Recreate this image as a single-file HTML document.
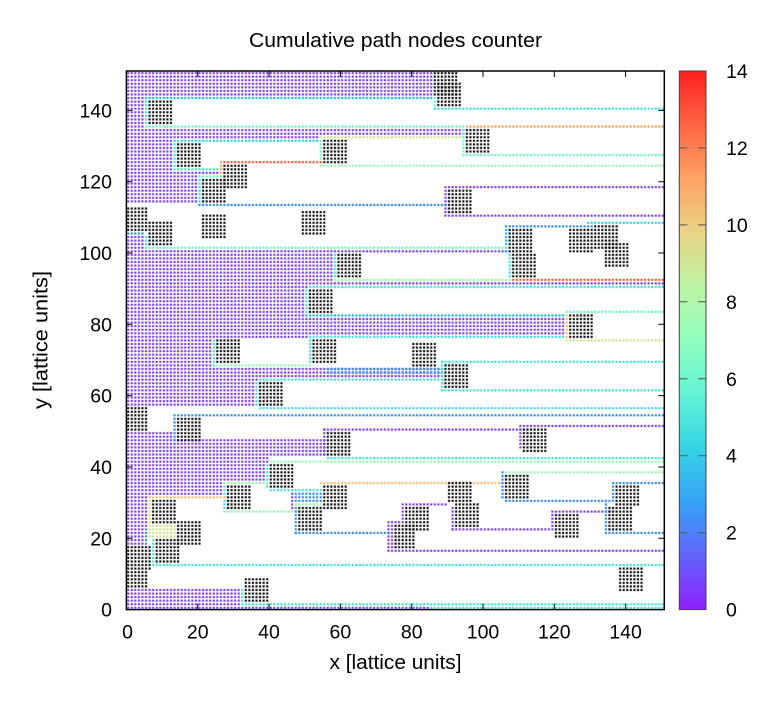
<!DOCTYPE html>
<html><head><meta charset="utf-8"><style>
html,body{margin:0;padding:0;background:#fff;}
svg{display:block;}
text{font-family:"Liberation Sans",Arial,sans-serif;fill:#000;}
</style></head><body>
<svg xmlns="http://www.w3.org/2000/svg" width="779" height="706" viewBox="0 0 779 706">
<defs>
<pattern id="pu" width="1" height="1" patternUnits="userSpaceOnUse"><rect x="0.2" y="0.2" width="0.6" height="0.6" fill="#7b3dff"/></pattern>
<pattern id="b2" width="1" height="1" patternUnits="userSpaceOnUse"><rect x="0.2" y="0.2" width="0.6" height="0.6" fill="#2f88f5"/></pattern>
<pattern id="c35" width="1" height="1" patternUnits="userSpaceOnUse"><rect x="0.2" y="0.2" width="0.6" height="0.6" fill="#14b8ee"/></pattern>
<pattern id="c45" width="1" height="1" patternUnits="userSpaceOnUse"><rect x="0.2" y="0.2" width="0.6" height="0.6" fill="#24d8e0"/></pattern>
<pattern id="c5" width="1" height="1" patternUnits="userSpaceOnUse"><rect x="0.2" y="0.2" width="0.6" height="0.6" fill="#37e6d8"/></pattern>
<pattern id="g6" width="1" height="1" patternUnits="userSpaceOnUse"><rect x="0.2" y="0.2" width="0.6" height="0.6" fill="#64fbc2"/></pattern>
<pattern id="lg" width="1" height="1" patternUnits="userSpaceOnUse"><rect x="0.2" y="0.2" width="0.6" height="0.6" fill="#92fda9"/></pattern>
<pattern id="yg" width="1" height="1" patternUnits="userSpaceOnUse"><rect x="0.2" y="0.2" width="0.6" height="0.6" fill="#c8e688"/></pattern>
<pattern id="oy" width="1" height="1" patternUnits="userSpaceOnUse"><rect x="0.2" y="0.2" width="0.6" height="0.6" fill="#f6be6a"/></pattern>
<pattern id="or" width="1" height="1" patternUnits="userSpaceOnUse"><rect x="0.2" y="0.2" width="0.6" height="0.6" fill="#ff9f54"/></pattern>
<pattern id="rd" width="1" height="1" patternUnits="userSpaceOnUse"><rect x="0.2" y="0.2" width="0.6" height="0.6" fill="#ff552b"/></pattern>
<pattern id="bk" width="1" height="1" patternUnits="userSpaceOnUse"><rect x="0.2" y="0.2" width="0.6" height="0.6" fill="#111"/></pattern>
<linearGradient id="cb" x1="0" y1="1" x2="0" y2="0">
<stop offset="0" stop-color="rgb(143,31,255)"/>
<stop offset="0.1" stop-color="rgb(98,100,252)"/>
<stop offset="0.2" stop-color="rgb(53,163,244)"/>
<stop offset="0.3" stop-color="rgb(53,212,230)"/>
<stop offset="0.4" stop-color="rgb(98,244,212)"/>
<stop offset="0.5" stop-color="rgb(143,255,189)"/>
<stop offset="0.6" stop-color="rgb(188,244,163)"/>
<stop offset="0.7" stop-color="rgb(233,212,133)"/>
<stop offset="0.8" stop-color="rgb(255,163,100)"/>
<stop offset="0.9" stop-color="rgb(255,100,66)"/>
<stop offset="1" stop-color="rgb(255,31,31)"/>
</linearGradient>
</defs>

<g transform="translate(126.4,609.6) scale(3.565,-3.565)">
<rect x="0" y="144" width="86" height="7" fill="url(#pu)"/>
<rect x="0" y="135" width="5" height="9" fill="url(#pu)"/>
<rect x="0" y="133" width="95" height="2" fill="url(#pu)"/>
<rect x="0" y="132" width="54" height="1" fill="url(#pu)"/>
<rect x="0" y="123" width="13" height="9" fill="url(#pu)"/>
<rect x="0" y="114" width="20" height="9" fill="url(#pu)"/>
<rect x="20" y="122" width="6" height="1" fill="url(#pu)"/>
<rect x="0" y="101" width="5" height="4" fill="url(#pu)"/>
<rect x="89" y="118" width="62" height="1" fill="url(#pu)"/>
<rect x="89" y="110" width="62" height="1" fill="url(#pu)"/>
<rect x="89" y="111" width="1" height="7" fill="url(#pu)"/>
<rect x="0" y="92" width="58" height="9" fill="url(#pu)"/>
<rect x="58" y="100" width="49" height="1" fill="url(#pu)"/>
<rect x="0" y="91" width="151" height="1" fill="url(#pu)"/>
<rect x="0" y="90" width="51" height="1" fill="url(#pu)"/>
<rect x="0" y="82" width="50" height="8" fill="url(#pu)"/>
<rect x="0" y="77" width="123" height="5" fill="url(#pu)"/>
<rect x="0" y="76" width="51" height="1" fill="url(#pu)"/>
<rect x="0" y="65" width="24" height="11" fill="url(#pu)"/>
<rect x="24" y="65" width="65" height="3" fill="url(#pu)"/>
<rect x="56" y="66" width="33" height="2" fill="url(#b2)"/>
<rect x="0" y="57" width="36" height="8" fill="url(#pu)"/>
<rect x="36" y="64" width="1" height="1" fill="url(#pu)"/>
<rect x="0" y="48" width="13" height="2" fill="url(#pu)"/>
<rect x="0" y="43" width="56" height="5" fill="url(#pu)"/>
<rect x="55" y="43" width="1" height="8" fill="url(#pu)"/>
<rect x="55" y="50" width="56" height="1" fill="url(#pu)"/>
<rect x="110" y="45" width="1" height="7" fill="url(#pu)"/>
<rect x="111" y="51" width="40" height="1" fill="url(#pu)"/>
<rect x="0" y="36" width="39" height="7" fill="url(#pu)"/>
<rect x="39" y="41" width="1" height="2" fill="url(#pu)"/>
<rect x="0" y="32" width="27" height="4" fill="url(#pu)"/>
<rect x="0" y="23" width="6" height="9" fill="url(#pu)"/>
<rect x="0" y="18" width="5" height="5" fill="url(#pu)"/>
<rect x="46" y="28" width="1" height="5" fill="url(#pu)"/>
<rect x="73" y="17" width="2" height="8" fill="url(#pu)"/>
<rect x="75" y="24" width="3" height="1" fill="url(#pu)"/>
<rect x="77" y="25" width="1" height="5" fill="url(#pu)"/>
<rect x="78" y="29" width="12" height="1" fill="url(#pu)"/>
<rect x="91" y="22" width="1" height="7" fill="url(#pu)"/>
<rect x="91" y="22" width="28" height="1" fill="url(#pu)"/>
<rect x="119" y="22" width="1" height="6" fill="url(#pu)"/>
<rect x="120" y="27" width="16" height="1" fill="url(#pu)"/>
<rect x="73" y="16" width="78" height="1" fill="url(#pu)"/>
<rect x="0" y="0" width="32" height="6" fill="url(#pu)"/>
<rect x="32" y="0" width="53" height="1" fill="url(#pu)"/>

<rect x="5" y="143" width="81" height="1" fill="url(#c35)"/>
<rect x="86" y="140" width="1" height="4" fill="url(#g6)"/>
<rect x="86" y="140" width="65" height="1" fill="url(#c5)"/>
<rect x="5" y="136" width="1" height="7" fill="url(#c5)"/>
<rect x="5" y="135" width="90" height="1" fill="url(#g6)"/>
<rect x="95" y="135" width="56" height="1" fill="url(#or)"/>
<rect x="54" y="132" width="41" height="1" fill="url(#yg)"/>
<rect x="13" y="131" width="41" height="1" fill="url(#c45)"/>
<rect x="13" y="124" width="1" height="7" fill="url(#c5)"/>
<rect x="54" y="125" width="1" height="7" fill="url(#g6)"/>
<rect x="94" y="128" width="1" height="7" fill="url(#g6)"/>
<rect x="94" y="127" width="57" height="1" fill="url(#g6)"/>
<rect x="54" y="124" width="97" height="1" fill="url(#lg)"/>
<rect x="27" y="125" width="28" height="1" fill="url(#rd)"/>
<rect x="26" y="121" width="1" height="5" fill="url(#or)"/>
<rect x="13" y="123" width="13" height="1" fill="url(#c5)"/>
<rect x="20" y="121" width="7" height="1" fill="url(#g6)"/>
<rect x="20" y="114" width="1" height="7" fill="url(#c5)"/>
<rect x="20" y="113" width="70" height="1" fill="url(#b2)"/>
<rect x="0" y="105" width="5" height="1" fill="url(#b2)"/>
<rect x="5" y="101" width="1" height="4" fill="url(#c5)"/>
<rect x="129" y="108" width="22" height="1" fill="url(#c45)"/>
<rect x="106" y="107" width="25" height="1" fill="url(#b2)"/>
<rect x="106" y="100" width="1" height="7" fill="url(#c35)"/>
<rect x="5" y="101" width="102" height="1" fill="url(#g6)"/>
<rect x="58" y="93" width="1" height="7" fill="url(#c5)"/>
<rect x="107" y="93" width="1" height="7" fill="url(#c5)"/>
<rect x="58" y="92" width="50" height="1" fill="url(#lg)"/>
<rect x="108" y="92" width="43" height="1" fill="url(#rd)"/>
<rect x="51" y="90" width="100" height="1" fill="url(#c5)"/>
<rect x="50" y="83" width="1" height="7" fill="url(#c5)"/>
<rect x="50" y="82" width="73" height="1" fill="url(#c35)"/>
<rect x="123" y="83" width="28" height="1" fill="url(#g6)"/>
<rect x="123" y="76" width="1" height="7" fill="url(#oy)"/>
<rect x="51" y="76" width="72" height="1" fill="url(#c5)"/>
<rect x="123" y="75" width="28" height="1" fill="url(#yg)"/>
<rect x="24" y="68" width="1" height="8" fill="url(#c5)"/>
<rect x="51" y="69" width="1" height="7" fill="url(#c5)"/>
<rect x="25" y="68" width="27" height="1" fill="url(#lg)"/>
<rect x="88" y="62" width="1" height="8" fill="url(#c5)"/>
<rect x="88" y="69" width="63" height="1" fill="url(#c5)"/>
<rect x="88" y="61" width="63" height="1" fill="url(#c5)"/>
<rect x="37" y="64" width="52" height="1" fill="url(#c5)"/>
<rect x="36" y="57" width="1" height="7" fill="url(#c5)"/>
<rect x="37" y="56" width="114" height="1" fill="url(#c5)"/>
<rect x="13" y="54" width="138" height="1" fill="url(#b2)"/>
<rect x="13" y="47" width="1" height="7" fill="url(#b2)"/>
<rect x="56" y="42" width="95" height="1" fill="url(#c5)"/>
<rect x="40" y="41" width="111" height="1" fill="url(#lg)"/>
<rect x="39" y="34" width="1" height="7" fill="url(#c5)"/>
<rect x="40" y="33" width="15" height="1" fill="url(#c5)"/>
<rect x="27" y="35" width="13" height="1" fill="url(#lg)"/>
<rect x="27" y="28" width="1" height="7" fill="url(#c5)"/>
<rect x="27" y="27" width="22" height="1" fill="url(#lg)"/>
<rect x="6" y="31" width="22" height="1" fill="url(#oy)"/>
<rect x="54" y="35" width="52" height="1" fill="url(#oy)"/>
<rect x="47" y="30" width="8" height="3" fill="url(#b2)"/>
<rect x="47" y="29" width="8" height="1" fill="url(#lg)"/>
<rect x="47" y="21" width="1" height="8" fill="url(#b2)"/>
<rect x="47" y="21" width="27" height="1" fill="url(#b2)"/>
<rect x="105" y="31" width="1" height="8" fill="url(#b2)"/>
<rect x="106" y="38" width="45" height="1" fill="url(#lg)"/>
<rect x="106" y="30" width="30" height="1" fill="url(#b2)"/>
<rect x="136" y="35" width="15" height="1" fill="url(#b2)"/>
<rect x="136" y="30" width="1" height="5" fill="url(#b2)"/>
<rect x="134" y="21" width="1" height="9" fill="url(#b2)"/>
<rect x="135" y="21" width="16" height="1" fill="url(#b2)"/>
<rect x="5" y="18" width="1" height="5" fill="url(#b2)"/>
<rect x="6" y="20" width="1" height="11" fill="url(#yg)"/>
<rect x="7" y="20" width="7" height="4" fill="url(#yg)"/>
<rect x="7" y="13" width="1" height="7" fill="url(#c5)"/>
<rect x="7" y="12" width="144" height="1" fill="url(#c5)"/>
<rect x="32" y="1" width="1" height="5" fill="url(#c5)"/>
<rect x="33" y="1" width="118" height="1" fill="url(#c5)"/>
<rect x="85" y="0" width="66" height="1" fill="url(#c5)"/>

<rect x="86" y="144" width="7" height="7" fill="url(#bk)"/>
<rect x="87" y="141" width="7" height="7" fill="url(#bk)"/>
<rect x="6" y="136" width="7" height="7" fill="url(#bk)"/>
<rect x="95" y="128" width="7" height="7" fill="url(#bk)"/>
<rect x="14" y="124" width="7" height="7" fill="url(#bk)"/>
<rect x="55" y="125" width="7" height="7" fill="url(#bk)"/>
<rect x="27" y="118" width="7" height="7" fill="url(#bk)"/>
<rect x="21" y="114" width="7" height="7" fill="url(#bk)"/>
<rect x="90" y="111" width="7" height="7" fill="url(#bk)"/>
<rect x="0" y="106" width="6" height="7" fill="url(#bk)"/>
<rect x="6" y="102" width="7" height="7" fill="url(#bk)"/>
<rect x="21" y="104" width="7" height="7" fill="url(#bk)"/>
<rect x="49" y="105" width="7" height="7" fill="url(#bk)"/>
<rect x="107" y="100" width="7" height="7" fill="url(#bk)"/>
<rect x="108" y="93" width="7" height="7" fill="url(#bk)"/>
<rect x="124" y="100" width="7" height="7" fill="url(#bk)"/>
<rect x="131" y="101" width="7" height="7" fill="url(#bk)"/>
<rect x="134" y="96" width="7" height="7" fill="url(#bk)"/>
<rect x="59" y="93" width="7" height="7" fill="url(#bk)"/>
<rect x="51" y="83" width="7" height="7" fill="url(#bk)"/>
<rect x="124" y="76" width="7" height="7" fill="url(#bk)"/>
<rect x="25" y="69" width="7" height="7" fill="url(#bk)"/>
<rect x="52" y="69" width="7" height="7" fill="url(#bk)"/>
<rect x="80" y="68" width="7" height="7" fill="url(#bk)"/>
<rect x="89" y="62" width="7" height="7" fill="url(#bk)"/>
<rect x="37" y="57" width="7" height="7" fill="url(#bk)"/>
<rect x="0" y="50" width="6" height="7" fill="url(#bk)"/>
<rect x="14" y="47" width="7" height="7" fill="url(#bk)"/>
<rect x="56" y="43" width="7" height="7" fill="url(#bk)"/>
<rect x="111" y="44" width="7" height="7" fill="url(#bk)"/>
<rect x="40" y="34" width="7" height="7" fill="url(#bk)"/>
<rect x="28" y="28" width="7" height="7" fill="url(#bk)"/>
<rect x="55" y="28" width="7" height="7" fill="url(#bk)"/>
<rect x="48" y="22" width="7" height="7" fill="url(#bk)"/>
<rect x="106" y="31" width="7" height="7" fill="url(#bk)"/>
<rect x="90" y="30" width="7" height="6" fill="url(#bk)"/>
<rect x="92" y="23" width="7" height="7" fill="url(#bk)"/>
<rect x="78" y="22" width="7" height="7" fill="url(#bk)"/>
<rect x="75" y="17" width="6" height="7" fill="url(#bk)"/>
<rect x="120" y="20" width="7" height="7" fill="url(#bk)"/>
<rect x="137" y="29" width="7" height="6" fill="url(#bk)"/>
<rect x="135" y="22" width="7" height="7" fill="url(#bk)"/>
<rect x="7" y="24" width="7" height="7" fill="url(#bk)"/>
<rect x="14" y="18" width="7" height="7" fill="url(#bk)"/>
<rect x="8" y="13" width="7" height="7" fill="url(#bk)"/>
<rect x="0" y="11" width="7" height="7" fill="url(#bk)"/>
<rect x="0" y="6" width="6" height="5" fill="url(#bk)"/>
<rect x="33" y="2" width="7" height="7" fill="url(#bk)"/>
<rect x="138" y="5" width="7" height="7" fill="url(#bk)"/>
</g>

<rect x="126.4" y="71" width="537.9" height="538.6" fill="none" stroke="#000" stroke-width="1.5"/>
<g stroke="#000" stroke-width="1">
<path d="M197.7 609.6v-6M269 609.6v-6M340.4 609.6v-6M411.7 609.6v-6M483 609.6v-6M554.3 609.6v-6M625.6 609.6v-6"/>
<path d="M197.7 71v6M269 71v6M340.4 71v6M411.7 71v6M483 71v6M554.3 71v6M625.6 71v6"/>
<path d="M126.4 538.3h6M126.4 467h6M126.4 395.6h6M126.4 324.3h6M126.4 253h6M126.4 181.7h6M126.4 110.4h6"/>
<path d="M664.3 538.3h-6M664.3 467h-6M664.3 395.6h-6M664.3 324.3h-6M664.3 253h-6M664.3 181.7h-6M664.3 110.4h-6"/>
</g>

<g font-size="19.5" text-anchor="end">
<text x="112" y="616.6">0</text>
<text x="112" y="545.3">20</text>
<text x="112" y="474">40</text>
<text x="112" y="402.6">60</text>
<text x="112" y="331.3">80</text>
<text x="112" y="260">100</text>
<text x="112" y="188.7">120</text>
<text x="112" y="117.4">140</text>
</g>
<g font-size="19.5" text-anchor="middle">
<text x="127.5" y="638.5">0</text>
<text x="197.7" y="638.5">20</text>
<text x="269" y="638.5">40</text>
<text x="340.4" y="638.5">60</text>
<text x="411.7" y="638.5">80</text>
<text x="483" y="638.5">100</text>
<text x="554.3" y="638.5">120</text>
<text x="625.6" y="638.5">140</text>
</g>

<text x="395.5" y="47" font-size="20" text-anchor="middle" textLength="293" lengthAdjust="spacingAndGlyphs">Cumulative path nodes counter</text>
<text x="395.5" y="669" font-size="20" text-anchor="middle" textLength="132" lengthAdjust="spacingAndGlyphs">x [lattice units]</text>
<text transform="translate(47.5,340) rotate(-90)" x="0" y="0" font-size="20" text-anchor="middle" textLength="138" lengthAdjust="spacingAndGlyphs">y [lattice units]</text>

<rect x="679.3" y="71" width="26.7" height="538.6" fill="url(#cb)"/>
<rect x="679.3" y="71" width="26.7" height="538.6" fill="none" stroke="#444" stroke-width="1"/>
<g stroke="#555" stroke-width="1">
<path d="M679.3 532.7h8M698 532.7h8M679.3 455.7h8M698 455.7h8M679.3 378.8h8M698 378.8h8M679.3 301.8h8M698 301.8h8M679.3 224.9h8M698 224.9h8M679.3 147.9h8M698 147.9h8"/>
</g>
<g font-size="19.5" text-anchor="start">
<text x="726" y="616.6">0</text>
<text x="726" y="539.7">2</text>
<text x="726" y="462.7">4</text>
<text x="726" y="385.8">6</text>
<text x="726" y="308.8">8</text>
<text x="726" y="231.9">10</text>
<text x="726" y="154.9">12</text>
<text x="726" y="78">14</text>
</g>
</svg>
</body></html>
